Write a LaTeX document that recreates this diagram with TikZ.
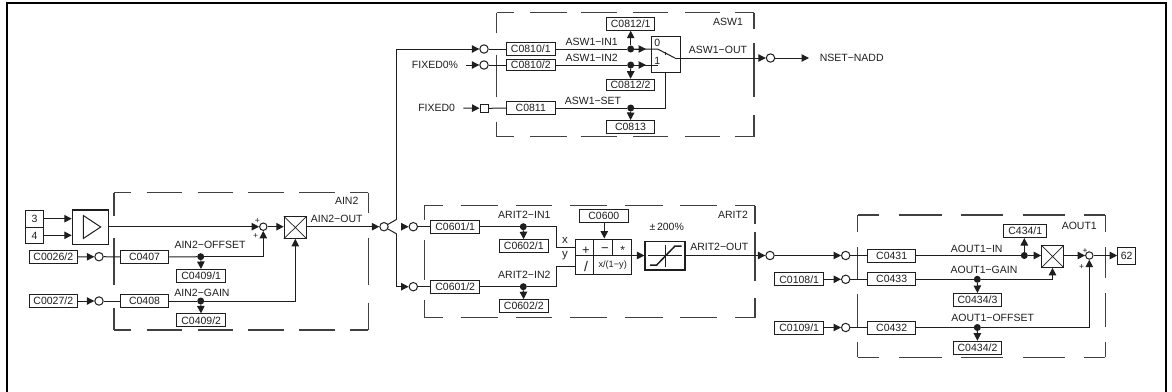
\documentclass[tikz,border=0pt]{standalone}
\usepackage{fontspec}
\setmainfont{Liberation Sans}
\usetikzlibrary{arrows.meta}
\definecolor{ink}{HTML}{1E1E1E}
\tikzset{
  wire/.style={draw=ink,line width=1pt},
  arr/.style={wire,-{Triangle[length=7.5pt,width=7.5pt]}},
  dashbox/.style={draw=ink!85,line width=1.2pt},
  cbox/.style={draw=ink,line width=1pt,fill=white,rectangle,inner sep=0pt,minimum width=48.5pt,minimum height=13pt,text=ink,font=\fontsize{10.5}{12}\selectfont},
  ring/.style={draw=ink,line width=1pt,fill=white,circle,inner sep=0pt,minimum size=8.4pt},
  sumring/.style={draw=ink,line width=1pt,fill=white,circle,inner sep=0pt,minimum size=7.4pt},
  blob/.style={fill=ink,circle,inner sep=0pt,minimum size=7pt},
  lab/.style={text=ink,inner sep=0pt,font=\fontsize{10.5}{12}\selectfont},
  sign/.style={text=ink,inner sep=0pt,font=\fontsize{8.5}{9}\selectfont},
  block/.style={draw=ink,line width=1.1pt,fill=white,rectangle,inner sep=0pt},
}
\begin{document}
\begin{tikzpicture}[x=1pt,y=-1pt]
\useasboundingbox (0,0) rectangle (1172,391);
% frame
\draw[line width=2.2pt,black] (7,395) -- (7,3) -- (1166.3,3) -- (1166.3,395);

% dashed outlines
\foreach \a/\b in {114/130.7,146.7/182.3,197.7/233.3,248.3/284,299.3/335,350/368.3}{
  \draw[dashbox] (\a,192.7) -- (\b,192.7); \draw[dashbox] (\a,330) -- (\b,330);}
\foreach \a/\b in {192.7/216,238/285,308/330}{\draw[dashbox] (114,\a) -- (114,\b);}
\foreach \a/\b in {192.7/213.3,238/285,303/330}{\draw[dashbox] (368.3,\a) -- (368.3,\b);}
\foreach \a/\b in {496.7/514.3,530/566.7,580.7/616.7,633.3/668.3,685/720,735/754}{
  \draw[dashbox] (\a,12.7) -- (\b,12.7); \draw[dashbox] (\a,136.7) -- (\b,136.7);}
\foreach \a/\b in {12.7/33.3,55/96.7,121.7/136.7}{\draw[dashbox] (496.7,\a) -- (496.7,\b);}
\foreach \a/\b in {12.7/29.3,43.3/96.7,115/136.7}{\draw[dashbox] (754,\a) -- (754,\b);}
\foreach \a/\b in {424.3/443.3,460.7/498.3,515.7/551.7,570/606.7,625/663.3,680/716.7,735/755}{
  \draw[dashbox] (\a,205.7) -- (\b,205.7); \draw[dashbox] (\a,317.7) -- (\b,317.7);}
\foreach \a/\b in {205.7/220,240/280,300/317.7}{\draw[dashbox] (424.3,\a) -- (424.3,\b);}
\foreach \a/\b in {205.7/224.3,231.7/280.7,298.3/317.7}{\draw[dashbox] (755,\a) -- (755,\b);}
\foreach \a/\b in {857.7/879.3,899.3/941.7,961/1003.3,1022.7/1065,1084.3/1105.3}{
  \draw[dashbox] (\a,215) -- (\b,215); \draw[dashbox] (\a,357.3) -- (\b,357.3);}
\foreach \a/\b in {215/231.7,247/279,294/327.3,341.7/357.3}{\draw[dashbox] (857.7,\a) -- (857.7,\b);}
\foreach \a/\b in {215/231.7,246.7/278.3,293.3/326.7,341.7/357.3}{\draw[dashbox] (1105.3,\a) -- (1105.3,\b);}

% ---------- AIN2
\node[cbox,minimum width=17.6pt,minimum height=16.6pt] (i3) at (34.5,219) {3};
\node[cbox,minimum width=17.6pt,minimum height=16.6pt] (i4) at (34.5,235.6) {4};
\node[block,minimum width=36pt,minimum height=34.7pt] (amp) at (90.3,227.3) {};
\draw[wire] (83.3,215.5) -- (83.3,238.5) -- (100.7,227) -- cycle;
\node[sumring] (sa) at (263.3,226.7) {};
\node[block,minimum width=22pt,minimum height=21.6pt] (ma) at (295.3,227.5) {};
\draw[wire,line width=0.7pt] (ma.north west) -- (ma.south east) (ma.north east) -- (ma.south west);
\node[ring] (ja) at (384,226.7) {};
\draw[arr] (i3.east |- 0,218.7) -- (amp.west |- 0,218.7);
\draw[arr] (i4.east |- 0,235.3) -- (amp.west |- 0,235.3);
\draw[arr] (amp.east |- sa) -- (sa);
\draw[arr] (sa) -- (ma.west |- sa);
\draw[arr] (ma.east |- ja) -- (ja);
\node[sign] at (257.3,220.7) {+};
\node[sign] at (255.7,236) {+};

\node[cbox] (c26) at (53.3,257) {C0026/2};
\node[ring] (ra1) at (99,256.7) {};
\node[cbox] (c407) at (144.5,257) {C0407};
\node[blob] (da1) at (200.7,256.7) {};
\node[cbox] (c4091) at (201.2,276) {C0409/1};
\draw[arr] (c26) -- (ra1);
\draw[wire] (ra1) -- (c407);
\draw[wire] (c407.east) -- (da1);
\draw[arr] (da1) -| (sa);
\draw[arr] (da1) -- (c4091);

\node[cbox] (c27) at (53.3,301) {C0027/2};
\node[ring] (ra2) at (99,301) {};
\node[cbox] (c408) at (144.5,301) {C0408};
\node[blob] (da2) at (200.7,301) {};
\node[cbox] (c4092) at (201.2,320.4) {C0409/2};
\draw[arr] (c27) -- (ra2);
\draw[wire] (ra2) -- (c408);
\draw[wire] (c408.east) -- (da2);
\draw[arr] (da2) -| (ma.south);
\draw[arr] (da2) -- (c4092);

\node[lab] at (346.7,201) {AIN2};
\node[lab] at (336.7,219.3) {AIN2−OUT};
\node[lab] at (210,245.3) {AIN2−OFFSET};
\node[lab] at (202,293.3) {AIN2−GAIN};

% ---------- fan-out
\coordinate (upa) at (396.7,219.3);
\coordinate (loa) at (396.7,234);
\coordinate (hd) at (402,226.7);
\node[ring] (r1) at (484,49) {};
\node[ring] (r2) at (484,65) {};
\node[lab] (f0p) at (435,65) {FIXED0\%};
\node[draw=ink,line width=1pt,fill=white,rectangle,inner sep=0pt,minimum size=8.4pt] (sq) at (484.2,108.3) {};
\node[lab] (f0) at (436.7,108) {FIXED0};
\node[ring] (r3) at (413.3,226.7) {};
\node[ring] (r4) at (413.3,286.7) {};
\draw[wire] (ja) -- (upa);
\draw[wire] (ja) -- (loa);
\draw[arr] (upa) |- (r1);
\draw[arr] (loa) |- (r4);
\draw[arr] (hd) -- (r3);

% ---------- ASW1
\node[cbox] (c8101) at (530.8,49) {C0810/1};
\node[cbox,minimum height=11.6pt] (c8102) at (530.8,65) {C0810/2};
\node[cbox] (c811) at (530.8,108) {C0811};
\node[blob] (d1) at (630.7,49) {};
\node[blob] (d2) at (630.7,65) {};
\node[blob] (d3) at (630.7,108) {};
\node[cbox] (c8121) at (630.7,23.7) {C0812/1};
\node[cbox,minimum height=11.6pt] (c8122) at (630.5,85) {C0812/2};
\node[cbox] (c813) at (630.5,127) {C0813};
\node[block,line width=1pt,minimum width=29.7pt,minimum height=36pt] (sw) at (665.9,54) {};
\coordinate (s0) at (657.5,49);
\coordinate (s1) at (658,65);
\coordinate (s2) at (675,58);
\coordinate (h1) at (646,49);
\coordinate (h2) at (646,65);
\coordinate (t1) at (665.5,51.7);
\coordinate (t2) at (665.5,55);
\node[ring] (r5) at (770.5,58) {};
\coordinate (nend) at (809,58);
\node[lab] (nset) at (851.7,57.7) {NSET−NADD};
\draw[arr] (f0p.east) ++(8,0) -- (r2);
\draw[arr] (f0.east) ++(8,0) -- (sq);
\draw[wire] (r1) -- (c8101);
\draw[wire] (r2) -- (c8102);
\draw[wire] (sq) -- (c811);
\draw[wire] (c8101.east) -- (d1);
\draw[wire] (c8102.east) -- (d2);
\draw[wire] (c811.east) -- (d3);
\draw[wire] (d1) -- (s0) -- (s2);
\draw[wire] (d2) -- (s1);
\draw[arr] (d1) -- (h1);
\draw[arr] (d2) -- (h2);
\draw[arr] (d1) -- (c8121);
\draw[arr] (d2) -- (c8122);
\draw[arr] (d3) -- (c813);
\draw[wire] (d3) -| (sw.south -| t1);
\draw[wire] (t1) -- (t2);
\draw[arr] (s2) -- (r5);
\draw[arr] (r5) -- (nend);
\node[lab] at (657.3,42.7) {0};
\node[lab] at (657.3,60.5) {1};
\node[lab] at (728,21.7) {ASW1};
\node[lab] at (591.7,41.7) {ASW1−IN1};
\node[lab] at (591.7,58.3) {ASW1−IN2};
\node[lab] at (593,101) {ASW1−SET};
\node[lab] at (718,50) {ASW1−OUT};

% ---------- ARIT2
\node[cbox] (c6011) at (455.2,226.7) {C0601/1};
\node[cbox] (c6012) at (455.2,286.7) {C0601/2};
\node[blob] (d4) at (523.3,226.7) {};
\node[blob] (d5) at (523.3,286.7) {};
\node[cbox] (c6021) at (523.8,246.2) {C0602/1};
\node[cbox] (c6022) at (523.8,306.2) {C0602/2};
\node[cbox] (c600) at (603.8,215.8) {C0600};
\node[block,line width=1pt,minimum width=56pt,minimum height=35pt] (ar) at (603.7,256.5) {};
\draw[wire] (ar.west |- 0,255.5) -- (ar.east |- 0,255.5);
\draw[wire] (593.3,239) -- (593.3,274);
\draw[wire] (612.7,239) -- (612.7,255.5);
\coordinate (xa) at (556,247.7);
\coordinate (ya) at (556,266);
\draw[wire] (c6011) -- (d4);
\draw[wire] (c6012) -- (d5);
\draw[wire] (d4) -| (xa) -- (xa -| ar.west);
\draw[wire] (d5) -| (ya) -- (ya -| ar.west);
\draw[arr] (d4) -- (c6021);
\draw[arr] (d5) -- (c6022);
\draw[arr] (c600.south -| 604.3,0) -- (ar.north -| 604.3,0);
\draw[wire] (r3) -- (c6011);
\draw[wire] (r4) -- (c6012);
\node[block,minimum width=40pt,minimum height=28.3pt] (lim) at (665,255.8) {};
\draw[wire,line width=0.6pt] (648.3,255.5) -- (681.7,255.5) (665,245) -- (665,267.3);
\draw[wire,line width=1.5pt] (650,265) -- (656.7,265) -- (675,246) -- (681.7,246);
\draw[arr] (ar.east |- 0,255.5) -- (lim.west |- 0,255.5);
\node[ring] (r6) at (770,255.5) {};
\draw[arr] (lim.east |- 0,255.5) -- (r6);
\node[lab,font=\fontsize{13}{14}\selectfont] at (586,251) {+};
\node[lab,font=\fontsize{13}{14}\selectfont] at (605,250.5) {−};
\node[lab,font=\fontsize{12}{14}\selectfont] at (622.7,250) {*};
\node[lab,font=\fontsize{14}{15}\selectfont] at (586,266) {/};
\node[lab,font=\fontsize{9.2}{11}\selectfont] at (612.7,265.5) {x/(1−y)};
\node[lab,font=\fontsize{11.5}{13}\selectfont] at (565,240) {x};
\node[lab,font=\fontsize{11.5}{13}\selectfont] at (565,256) {y};
\node[lab] at (666.7,226.7) {±\,200\%};
\node[lab] at (733,215) {ARIT2};
\node[lab] at (524.3,215.3) {ARIT2−IN1};
\node[lab] at (524.3,275) {ARIT2−IN2};
\node[lab] at (719.3,247.3) {ARIT2−OUT};

% ---------- AOUT1
\node[ring] (r7) at (845.7,255.5) {};
\node[ring] (r8) at (845.7,279.3) {};
\node[ring] (r9) at (845.7,327.5) {};
\node[cbox] (c431) at (891.7,255.5) {C0431};
\node[cbox] (c433) at (891.7,279.3) {C0433};
\node[cbox] (c432) at (891.7,327.5) {C0432};
\node[cbox] (c1081) at (799.2,279.3) {C0108/1};
\node[cbox] (c1091) at (799.2,327.5) {C0109/1};
\node[blob] (d6) at (1024.3,255.5) {};
\node[blob] (d7) at (977.3,279.3) {};
\node[blob] (d8) at (977.3,327.5) {};
\node[cbox,minimum width=42.7pt] (c4341) at (1025.3,231) {C434/1};
\node[cbox] (c4343) at (977.5,300) {C0434/3};
\node[cbox] (c4342) at (977.5,347.7) {C0434/2};
\node[block,minimum width=21.6pt,minimum height=21.6pt] (mb) at (1052.5,256.5) {};
\draw[wire,line width=0.7pt] (mb.north west) -- (mb.south east) (mb.north east) -- (mb.south west);
\node[sumring] (sb) at (1089.3,255.5) {};
\node[cbox,minimum width=18pt,minimum height=16.6pt] (o62) at (1126.7,256) {62};
\draw[arr] (r6) -- (r7);
\draw[arr] (c1081) -- (r8);
\draw[arr] (c1091) -- (r9);
\draw[wire] (r7) -- (c431);
\draw[wire] (r8) -- (c433);
\draw[wire] (r9) -- (c432);
\draw[wire] (c431.east) -- (d6);
\draw[wire] (c433.east) -- (d7);
\draw[wire] (c432.east) -- (d8);
\draw[arr] (d6) -- (mb.west |- d6);
\draw[arr] (d6) -- (c4341.south -| d6);
\draw[arr] (d7) -| (mb.south);
\draw[arr] (d7) -- (c4343);
\draw[arr] (d8) -| (sb);
\draw[arr] (d8) -- (c4342);
\draw[arr] (mb.east |- sb) -- (sb);
\draw[arr] (sb) -- (o62.west |- sb);
\node[sign] at (1085,251) {+};
\node[sign] at (1081.7,267.3) {+};
\node[lab] at (1079.3,226) {AOUT1};
\node[lab] at (976.7,249) {AOUT1−IN};
\node[lab] at (984,270) {AOUT1−GAIN};
\node[lab] at (992.7,318.3) {AOUT1−OFFSET};
\end{tikzpicture}
\end{document}
